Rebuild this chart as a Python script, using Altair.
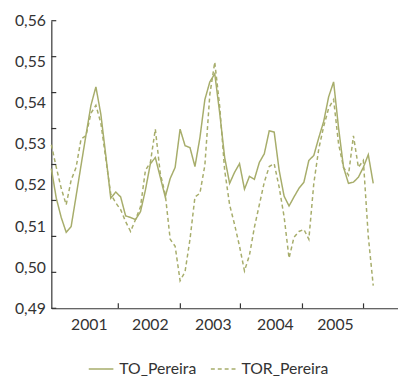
import altair as alt
import pandas as pd

TO_Pereira = [0.5240, 0.5168, 0.5121, 0.5085, 0.5099, 0.5173, 0.5248, 0.5322, 0.5394, 0.5439,
              0.5372, 0.5272, 0.5168, 0.5183, 0.5171, 0.5125, 0.5121, 0.5116, 0.5135, 0.5188,
              0.5252, 0.5267, 0.5219, 0.5171, 0.5216, 0.5243, 0.5336, 0.5296, 0.5291, 0.5245,
              0.5315, 0.5408, 0.5451, 0.5471, 0.5375, 0.5267, 0.5204, 0.5231, 0.5252, 0.5190,
              0.5221, 0.5214, 0.5255, 0.5276, 0.5332, 0.5329, 0.5236, 0.5173, 0.5149, 0.5171,
              0.5192, 0.5207, 0.5260, 0.5272, 0.5315, 0.5355, 0.5415, 0.5451, 0.5339, 0.5243,
              0.5204, 0.5207, 0.5219, 0.5243, 0.5274, 0.5204]
TOR_Pereira = [0.5298, 0.5243, 0.5192, 0.5152, 0.5212, 0.5243, 0.5312, 0.5320, 0.5375, 0.5394,
               0.5351, 0.5264, 0.5178, 0.5157, 0.5140, 0.5111, 0.5087, 0.5116, 0.5147, 0.5236,
               0.5255, 0.5336, 0.5228, 0.5178, 0.5068, 0.5051, 0.4967, 0.4989, 0.5068, 0.5171,
               0.5180, 0.5248, 0.5420, 0.5499, 0.5391, 0.5236, 0.5152, 0.5104, 0.5051, 0.4991,
               0.5029, 0.5097, 0.5152, 0.5207, 0.5245, 0.5252, 0.5195, 0.5123, 0.5022, 0.5073,
               0.5087, 0.5092, 0.5068, 0.5204, 0.5288, 0.5343, 0.5387, 0.5408, 0.5300, 0.5243,
               0.5224, 0.5320, 0.5243, 0.5260, 0.5075, 0.4955]
series_names = ["TO_Pereira", "TOR_Pereira"]

# Axis labels / tick positions (in month-index units and value units)
year_labels = ["2001", "2002", "2003", "2004", "2005"]
year_label_pos = [7.56, 19.89, 32.61, 45.14, 57.27]
year_tick_pos = [13.52, 26.05, 38.18, 50.71, 63.04]
y_label_values = [0.49, 0.50, 0.51, 0.52, 0.53, 0.54, 0.55, 0.56]
y_tick_values = [0.49, 0.49875, 0.5075, 0.51625, 0.525, 0.53375, 0.5425, 0.55125, 0.56]

rows = []
for i, v in enumerate(TO_Pereira):
    rows.append({"t": i, "value": v, "series": series_names[0]})
for i, v in enumerate(TOR_Pereira):
    rows.append({"t": i, "value": v, "series": series_names[1]})
df = pd.DataFrame(rows)

W, H = 352, 292
FONT = "Lato"
TXT = "#333333"
LINE = "#a7ad6b"

x_scale = alt.Scale(domain=[0, 70], nice=False, zero=False)
y_scale = alt.Scale(domain=[0.49, 0.56], nice=False, zero=False)

x_label_expr = "{}[indexof({}, datum.value)]".format(
    "[" + ",".join("'%s'" % s for s in year_labels) + "]",
    "[" + ",".join(repr(p) for p in year_label_pos) + "]",
)
x_axis = alt.Axis(values=year_label_pos, labelExpr=x_label_expr, ticks=False, grid=False,
                  title=None, labelFont=FONT, labelFontSize=16, labelColor=TXT,
                  labelPadding=9, labelOverlap=False, labelFlush=False,
                  domainColor=TXT, domainWidth=1.2)
y_axis = alt.Axis(values=y_label_values,
                  labelExpr="replace(format(datum.value, '.2f'), '.', ',')",
                  ticks=False, grid=False, title=None, labelFont=FONT, labelFontSize=16,
                  labelColor=TXT, labelPadding=6, labelOverlap=False, labelFlush=False,
                  domainColor=TXT, domainWidth=1.2)

legend = alt.Legend(orient="none", legendX=37, legendY=340,
                    direction="horizontal", title=None,
                    symbolType="stroke", symbolSize=625,
                    symbolStrokeWidth=1.5, labelFont=FONT,
                    labelFontSize=16, labelColor=TXT, labelOffset=5,
                    columnPadding=11, padding=0)

lines = alt.Chart(df).mark_line(strokeWidth=1.5).encode(
    x=alt.X("t:Q", scale=x_scale, axis=x_axis),
    y=alt.Y("value:Q", scale=y_scale, axis=y_axis),
    color=alt.Color("series:N", scale=alt.Scale(domain=series_names, range=[LINE, LINE]),
                    legend=legend),
    strokeDash=alt.StrokeDash("series:N",
                              scale=alt.Scale(domain=series_names, range=[[1, 0], [4, 3]]),
                              legend=legend),
)

ytick_df = pd.DataFrame({"v": y_tick_values})
yticks = alt.Chart(ytick_df).mark_rule(color=TXT, strokeWidth=1.2).encode(
    y=alt.Y("v:Q", scale=y_scale, axis=y_axis),
    x=alt.value(0),
    x2=alt.value(5),
)

xtick_df = pd.DataFrame({"p": year_tick_pos})
xticks = alt.Chart(xtick_df).mark_rule(color=TXT, strokeWidth=1.2).encode(
    x=alt.X("p:Q", scale=x_scale, axis=x_axis),
    y=alt.value(H),
    y2=alt.value(H - 5),
)

chart = alt.layer(lines, yticks, xticks).properties(
    width=W, height=H,
    autosize=alt.AutoSizeParams(type="none"),
    padding={"left": 44, "top": 10, "right": 0, "bottom": 76},
).configure_view(stroke=None)

chart.save("out.html", embed_options={"renderer": "svg", "actions": False})
